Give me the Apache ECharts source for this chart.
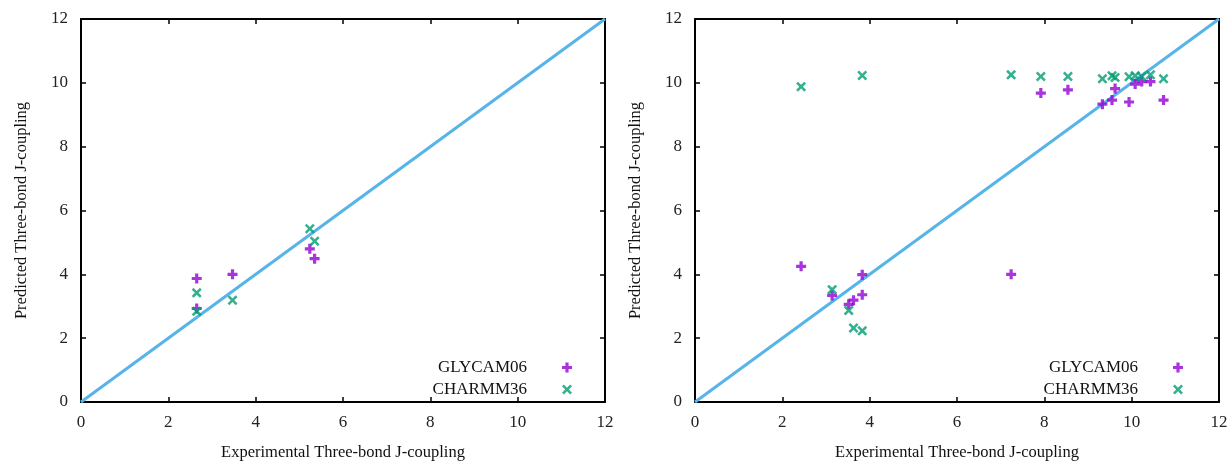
<!DOCTYPE html>
<html><head><meta charset="utf-8">
<script src="https://cdn.jsdelivr.net/npm/echarts@6/dist/echarts.min.js"></script>
<style>html,body{margin:0;padding:0;background:#fff}#c{width:1229px;height:463px}</style>
</head><body><div id="c"></div>
<script>
// Left panel data
const leftX = [2.65, 3.47, 5.24, 5.35, 2.65];
const leftGlycam = [3.87, 4.0, 4.8, 4.49, 2.93];
const leftCharmmX = [2.65, 2.65, 3.47, 5.24, 5.35];
const leftCharmm = [3.42, 2.84, 3.19, 5.43, 5.04];
// Right panel data
const rightX = [2.43, 3.83, 7.24, 3.14, 3.52, 3.63, 3.83, 7.92, 8.54, 9.33, 9.55, 9.62, 9.94, 10.08, 10.23, 10.43, 10.73];
const rightGlycam = [4.25, 3.99, 4.0, 3.34, 3.06, 3.19, 3.36, 9.68, 9.78, 9.33, 9.46, 9.82, 9.4, 9.96, 10.04, 10.04, 9.46];
const rightCharmm = [9.88, 10.23, 10.25, 3.52, 2.87, 2.32, 2.23, 10.2, 10.2, 10.13, 10.22, 10.17, 10.19, 10.22, 10.2, 10.25, 10.13];
const diagonal = [0, 12];
const seriesNames = ['GLYCAM06', 'CHARMM36'];
const xTitle = 'Experimental Three-bond J-coupling';
const yTitle = 'Predicted Three-bond J-coupling';

const PLUS = 'path://M3.4,0H6.6V3.4H10V6.6H6.6V10H3.4V6.6H0V3.4H3.4Z';
const CROSS = 'path://M0,1.8L1.8,0L5,3.2L8.2,0L10,1.8L6.8,5L10,8.2L8.2,10L5,6.8L1.8,10L0,8.2L3.2,5Z';
const FONT = 'Liberation Serif';
const purple = '#9400D3', green = '#009E73', blue = '#56B4E9';

function pairs(xs, ys){ return xs.map((x,i)=>[x, ys[i]]); }

const lineSt = {onZero:false, lineStyle:{color:'#000', width:2}};
const tickSt = {inside:true, length:5, lineStyle:{color:'#000', width:1.5}};

function mainX(g){
  return {gridIndex:g, type:'value', min:0, max:12, interval:2, position:'bottom',
    name:xTitle, nameLocation:'middle', nameGap:42,
    nameTextStyle:{fontFamily:FONT, fontSize:16.5, color:'#111'},
    axisLine:lineSt, axisTick:tickSt,
    axisLabel:{fontFamily:FONT, fontSize:17, color:'#222', margin:12},
    splitLine:{show:false}};
}
function mirrorX(g){
  return {gridIndex:g, type:'value', min:0, max:12, interval:2, position:'top',
    axisLine:lineSt, axisTick:tickSt,
    axisLabel:{show:false}, splitLine:{show:false}};
}
function mainY(g){
  return {gridIndex:g, type:'value', min:0, max:12, interval:2, position:'left',
    name:yTitle, nameLocation:'middle', nameGap:51, nameRotate:90,
    nameTextStyle:{fontFamily:FONT, fontSize:16.5, color:'#111'},
    axisLine:lineSt, axisTick:tickSt,
    axisLabel:{fontFamily:FONT, fontSize:17, color:'#222', margin:13},
    splitLine:{show:false}};
}
function mirrorY(g){
  return {gridIndex:g, type:'value', min:0, max:12, interval:2, position:'right',
    axisLine:lineSt, axisTick:tickSt,
    axisLabel:{show:false}, splitLine:{show:false}};
}

const chart = echarts.init(document.getElementById('c'), null, {renderer:'canvas'});
const option = {
  animation:false,
  backgroundColor:'#fff',
  grid:[
    {left:81, right:624, top:19, bottom:61, containLabel:false, outerBoundsMode:'none'},
    {left:695, right:10, top:19, bottom:61, containLabel:false, outerBoundsMode:'none'}
  ],
  xAxis:[mainX(0), mirrorX(0), mainX(1), mirrorX(1)],
  yAxis:[mainY(0), mirrorY(0), mainY(1), mirrorY(1)],
  legend:[
    {data:seriesNames, orient:'vertical', align:'right', right:657, top:359, padding:0,
     itemWidth:10, itemHeight:10, itemGap:5,
     textStyle:{fontFamily:FONT, fontSize:17, color:'#111', padding:[0,30,0,0]}},
    {data:seriesNames, orient:'vertical', align:'right', right:46, top:359, padding:0,
     itemWidth:10, itemHeight:10, itemGap:5,
     textStyle:{fontFamily:FONT, fontSize:17, color:'#111', padding:[0,30,0,0]}}
  ],
  series:[
    {type:'line', xAxisIndex:0, yAxisIndex:0, data:pairs(diagonal, diagonal), showSymbol:false,
     lineStyle:{color:blue, width:3}, silent:true, z:1},
    {type:'line', xAxisIndex:2, yAxisIndex:2, data:pairs(diagonal, diagonal), showSymbol:false,
     lineStyle:{color:blue, width:3}, silent:true, z:1},
    {name:seriesNames[0], type:'scatter', xAxisIndex:0, yAxisIndex:0, data:pairs(leftX, leftGlycam),
     symbol:PLUS, symbolSize:10, itemStyle:{color:purple}, z:3},
    {name:seriesNames[1], type:'scatter', xAxisIndex:0, yAxisIndex:0, data:pairs(leftCharmmX, leftCharmm),
     symbol:CROSS, symbolSize:10, itemStyle:{color:green}, z:4},
    {name:seriesNames[0], type:'scatter', xAxisIndex:2, yAxisIndex:2, data:pairs(rightX, rightGlycam),
     symbol:PLUS, symbolSize:10, itemStyle:{color:purple}, z:3},
    {name:seriesNames[1], type:'scatter', xAxisIndex:2, yAxisIndex:2, data:pairs(rightX, rightCharmm),
     symbol:CROSS, symbolSize:10, itemStyle:{color:green}, z:4}
  ]
};
chart.setOption(option);
</script></body></html>
